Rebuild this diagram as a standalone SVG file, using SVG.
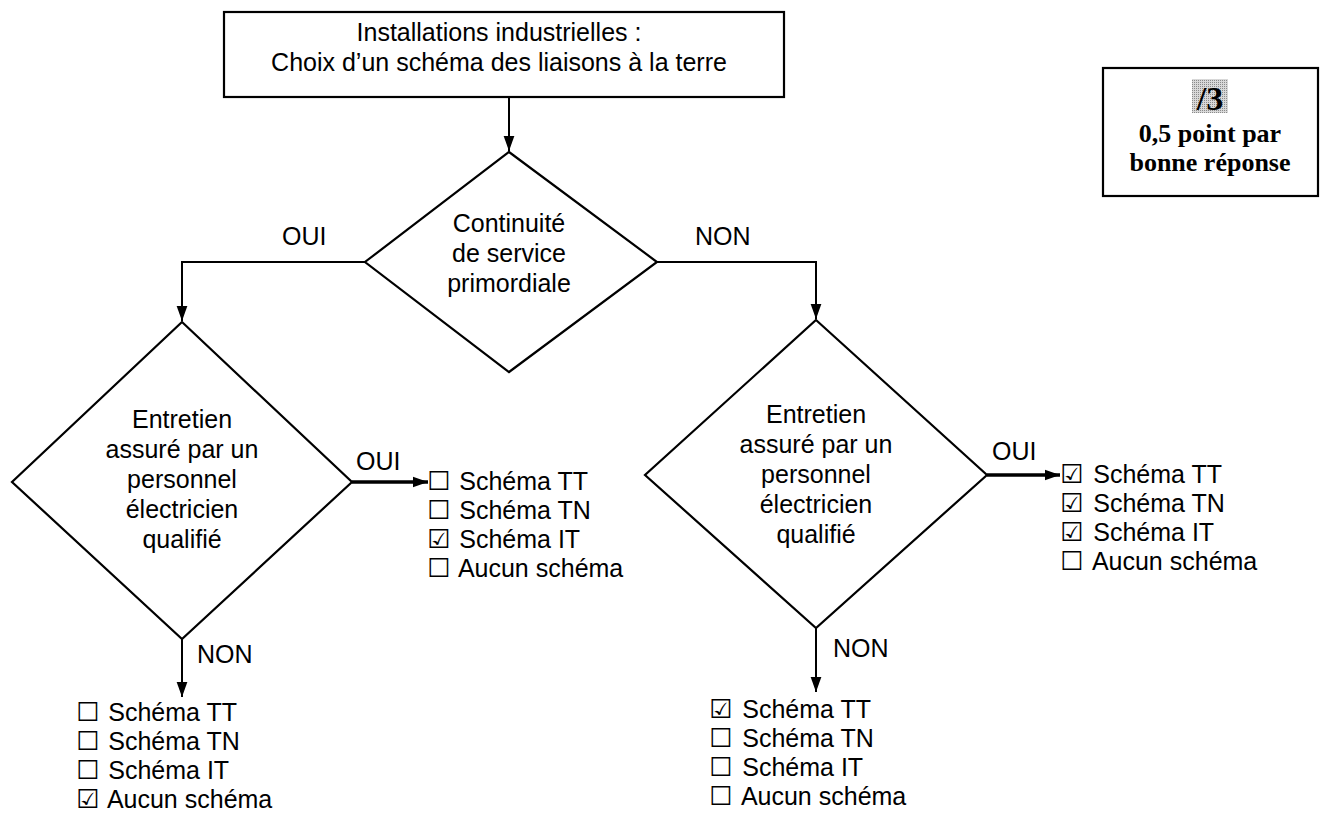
<svg xmlns="http://www.w3.org/2000/svg" width="1328" height="819" viewBox="0 0 1328 819">
<defs>
<style>
.t{font-family:"Liberation Sans",Arial,sans-serif;font-size:25px;fill:#000}
.c{text-anchor:middle}
.b{font-family:"Liberation Serif","Times New Roman",serif;font-weight:bold;font-size:26px;text-anchor:middle;fill:#000}
.big{font-size:34px}
.shape{fill:#fff;stroke:#000;stroke-width:2.2}
.ln{fill:none;stroke:#000;stroke-width:2}
.thick{fill:none;stroke:#000;stroke-width:3.5}
.box{font-family:"DejaVu Sans",sans-serif;font-size:26px}
</style>
<marker id="ah" viewBox="0 0 14 10" refX="14" refY="5" markerWidth="15" markerHeight="12" markerUnits="userSpaceOnUse" orient="auto">
<path d="M0,0 L14,5 L0,10 Z" fill="#000"/>
</marker>
<pattern id="dots" width="2" height="2" patternUnits="userSpaceOnUse">
<rect width="2" height="2" fill="#d8d8d8"/>
<rect width="1" height="1" fill="#8a8a8a"/>
</pattern>
</defs>
<rect width="1328" height="819" fill="#fff"/>

<g id="connectors">
<path class="ln" d="M509,97 V151" marker-end="url(#ah)"/>
<path class="ln" d="M365,262 H182 V321" marker-end="url(#ah)"/>
<path class="ln" d="M657,262 H816 V319" marker-end="url(#ah)"/>
<path class="thick" d="M352,482 H428" marker-end="url(#ah)"/>
<path class="thick" d="M987,475 H1060" marker-end="url(#ah)"/>
<path class="ln" d="M182,639 V697" marker-end="url(#ah)"/>
<path class="ln" d="M816,628 V692" marker-end="url(#ah)"/>
<text class="t" x="282" y="245">OUI</text>
<text class="t" x="695" y="245">NON</text>
<text class="t" x="356" y="470">OUI</text>
<text class="t" x="992" y="460">OUI</text>
<text class="t" x="197" y="663">NON</text>
<text class="t" x="833" y="657">NON</text>
</g>

<g id="start">
<rect class="shape" x="224" y="12" width="560" height="85"/>
<text class="t c" x="499" y="41">Installations industrielles :</text>
<text class="t c" x="499" y="71">Choix d’un schéma des liaisons à la terre</text>
</g>

<g id="bareme">
<rect class="shape" x="1103" y="68" width="215" height="128"/>
<rect x="1192" y="79" width="36" height="34" fill="url(#dots)"/>
<text class="b big" x="1210" y="110">/3</text>
<text class="b" x="1210" y="142">0,5 point par</text>
<text class="b" x="1210" y="171">bonne réponse</text>
</g>

<g id="d1">
<polygon class="shape" points="509,152 657,262 509,372 365,262"/>
<text class="t c" x="509" y="232">Continuité</text>
<text class="t c" x="509" y="262">de service</text>
<text class="t c" x="509" y="292">primordiale</text>
</g>

<g id="d2">
<polygon class="shape" points="182,322 352,482 182,639 12,482"/>
<text class="t c" x="182" y="428">Entretien</text>
<text class="t c" x="182" y="458">assuré par un</text>
<text class="t c" x="182" y="488">personnel</text>
<text class="t c" x="182" y="518">électricien</text>
<text class="t c" x="182" y="548">qualifié</text>
</g>

<g id="d3">
<polygon class="shape" points="816,320 987,475 816,628 645,475"/>
<text class="t c" x="816" y="423">Entretien</text>
<text class="t c" x="816" y="453">assuré par un</text>
<text class="t c" x="816" y="483">personnel</text>
<text class="t c" x="816" y="513">électricien</text>
<text class="t c" x="816" y="543">qualifié</text>
</g>

<g id="list1">
<text class="t" x="427" y="490"><tspan class="box">☐</tspan> <tspan dx="2">Schéma TT</tspan></text>
<text class="t" x="427" y="519"><tspan class="box">☐</tspan> <tspan dx="2">Schéma TN</tspan></text>
<text class="t" x="427" y="548"><tspan class="box">☑</tspan> <tspan dx="2">Schéma IT</tspan></text>
<text class="t" x="427" y="577"><tspan class="box">☐</tspan> <tspan dx="2">Aucun schéma</tspan></text>
</g>

<g id="list2">
<text class="t" x="1060" y="483"><tspan class="box">☑</tspan> <tspan dx="3">Schéma TT</tspan></text>
<text class="t" x="1060" y="512"><tspan class="box">☑</tspan> <tspan dx="3">Schéma TN</tspan></text>
<text class="t" x="1060" y="541"><tspan class="box">☑</tspan> <tspan dx="3">Schéma IT</tspan></text>
<text class="t" x="1060" y="570"><tspan class="box">☐</tspan> <tspan dx="3">Aucun schéma</tspan></text>
</g>

<g id="list3">
<text class="t" x="76" y="721"><tspan class="box">☐</tspan> <tspan dx="2">Schéma TT</tspan></text>
<text class="t" x="76" y="750"><tspan class="box">☐</tspan> <tspan dx="2">Schéma TN</tspan></text>
<text class="t" x="76" y="779"><tspan class="box">☐</tspan> <tspan dx="2">Schéma IT</tspan></text>
<text class="t" x="76" y="808"><tspan class="box">☑</tspan> <tspan dx="2">Aucun schéma</tspan></text>
</g>

<g id="list4">
<text class="t" x="709" y="718"><tspan class="box">☑</tspan> <tspan dx="3">Schéma TT</tspan></text>
<text class="t" x="709" y="747"><tspan class="box">☐</tspan> <tspan dx="3">Schéma TN</tspan></text>
<text class="t" x="709" y="776"><tspan class="box">☐</tspan> <tspan dx="3">Schéma IT</tspan></text>
<text class="t" x="709" y="805"><tspan class="box">☐</tspan> <tspan dx="3">Aucun schéma</tspan></text>
</g>
</svg>
